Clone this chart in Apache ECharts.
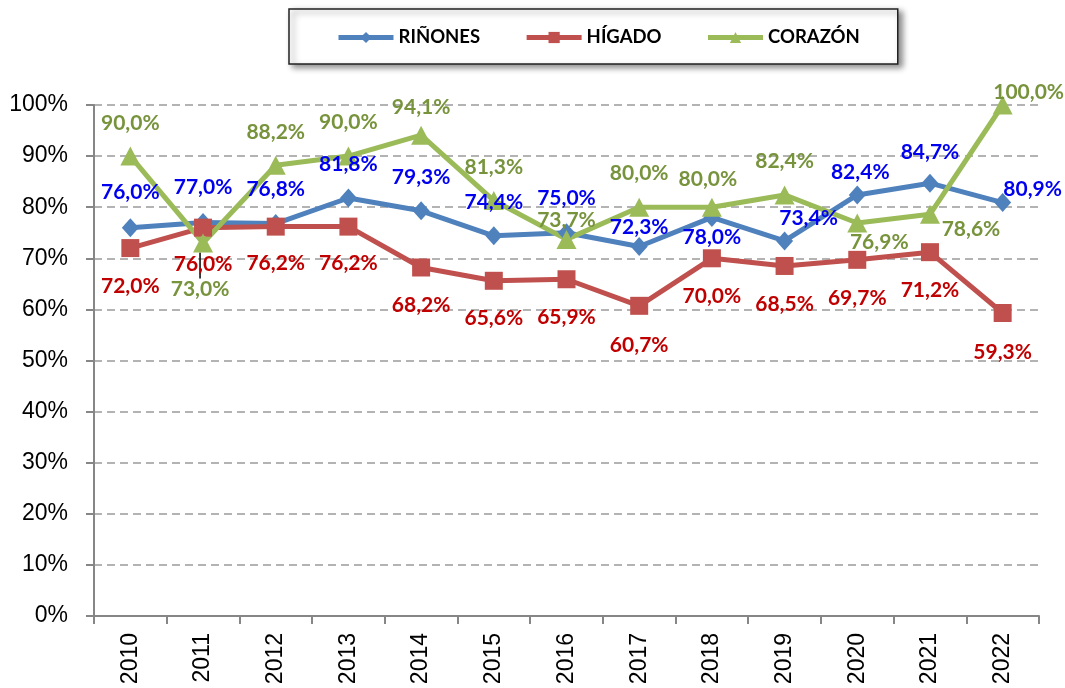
<!DOCTYPE html>
<html>
<head>
<meta charset="utf-8">
<script src="https://cdn.jsdelivr.net/npm/echarts@6/dist/echarts.min.js"></script>
<style>
  html, body { margin: 0; padding: 0; background: #fff; }
  #chart { width: 1065px; height: 688px; }
</style>
</head>
<body>
<div id="chart"></div>
<script>
// datos por año (porcentaje)
var years = ['2010', '2011', '2012', '2013', '2014', '2015', '2016', '2017', '2018', '2019', '2020', '2021', '2022'];
var rinones = [76.0, 77.0, 76.8, 81.8, 79.3, 74.4, 75.0, 72.3, 78.0, 73.4, 82.4, 84.7, 80.9];
var higado = [72.0, 76.0, 76.2, 76.2, 68.2, 65.6, 65.9, 60.7, 70.0, 68.5, 69.7, 71.2, 59.3];
var corazon = [90.0, 73.0, 88.2, 90.0, 94.1, 81.3, 73.7, 80.0, 80.0, 82.4, 76.9, 78.6, 100.0];

// desplazamiento de etiquetas (px) respecto al marcador
var rinonesOff = [[0, -35], [0, -35], [0, -34], [0, -34], [0, -34], [0, -34], [0, -35], [0, -19], [0, 20], [24, -23], [3, -23], [0, -31], [30, -13]];
var higadoOff = [[0, 38], [0, 37], [0, 37], [0, 37], [0, 38], [0, 37], [0, 38], [0, 39], [0, 38], [0, 38], [0, 38], [0, 38], [0, 39]];
var corazonOff = [[0, -33], [-3, 46], [0, -33], [0, -34], [0, -28], [0, -33], [0, -19], [0, -34], [-4, -28], [0, -34], [22, 19], [41, 15], [26, -13]];

function pct(p) {
    return p.value.toFixed(1).replace('.', ',') + '%';
}

function build(values, offs, leaderIdx) {
    return values.map(function (v, i) {
        var item = { value: v, label: { offset: offs[i] } };
        if (i === leaderIdx) {
            item.labelLine = { show: true, lineStyle: { color: '#000', width: 1.5 } };
        }
        return item;
    });
}

function labelStyle(color) {
    return {
        show: true,
        position: ['50%', '50%'],
        align: 'center',
        verticalAlign: 'middle',
        formatter: pct,
        color: color,
        fontFamily: 'Lato',
        fontWeight: 'bold',
        fontSize: 21
    };
}

var chart = echarts.init(document.getElementById('chart'));

chart.setOption({
    animation: false,
    backgroundColor: '#fff',
    grid: { left: 94, right: 26, top: 105, bottom: 72, containLabel: false },
    legend: {
        left: 289,
        top: 9,
        padding: [19, 38, 17, 47],
        itemGap: 44,
        itemWidth: 55,
        itemHeight: 14,
        borderColor: '#222',
        borderWidth: 1.5,
        backgroundColor: '#fff',
        shadowColor: 'rgba(0,0,0,0.45)',
        shadowBlur: 6,
        shadowOffsetX: 4,
        shadowOffsetY: 3,
        lineStyle: { width: 5 },
        textStyle: { fontFamily: 'Lato', fontWeight: 'bold', fontSize: 18.5, color: '#000' },
        data: ['RIÑONES', 'HÍGADO', 'CORAZÓN']
    },
    xAxis: {
        type: 'category',
        data: years,
        boundaryGap: true,
        axisLine: { lineStyle: { color: '#868686', width: 2 } },
        axisTick: { show: true, length: 8, lineStyle: { color: '#868686', width: 2 } },
        axisLabel: {
            rotate: 90,
            margin: 17,
            color: '#000',
            fontFamily: 'Liberation Sans',
            fontSize: 23
        }
    },
    yAxis: {
        type: 'value',
        min: 0,
        max: 100,
        interval: 10,
        axisLine: { show: true, lineStyle: { color: '#868686', width: 2 } },
        axisTick: { show: true, length: 8, lineStyle: { color: '#868686', width: 2 } },
        axisLabel: {
            formatter: '{value}%',
            margin: 26,
            color: '#000',
            fontFamily: 'Liberation Sans',
            fontSize: 23
        },
        splitLine: { lineStyle: { color: '#9a9a9a', width: 1.5, type: [8, 5] } }
    },
    series: [
        {
            name: 'RIÑONES',
            type: 'line',
            data: build(rinones, rinonesOff, -1),
            symbol: 'diamond',
            symbolSize: [17, 19],
            lineStyle: { color: '#4F81BD', width: 5 },
            itemStyle: { color: '#4F81BD' },
            label: labelStyle('#0000F0')
        },
        {
            name: 'HÍGADO',
            type: 'line',
            data: build(higado, higadoOff, -1),
            symbol: 'rect',
            symbolSize: 18,
            lineStyle: { color: '#C0504D', width: 5 },
            itemStyle: { color: '#C0504D' },
            label: labelStyle('#C00000')
        },
        {
            name: 'CORAZÓN',
            type: 'line',
            data: build(corazon, corazonOff, 1),
            symbol: 'triangle',
            symbolSize: [20, 19],
            lineStyle: { color: '#9BBB59', width: 5 },
            itemStyle: { color: '#9BBB59' },
            label: labelStyle('#77933C')
        }
    ]
});
</script>
</body>
</html>
